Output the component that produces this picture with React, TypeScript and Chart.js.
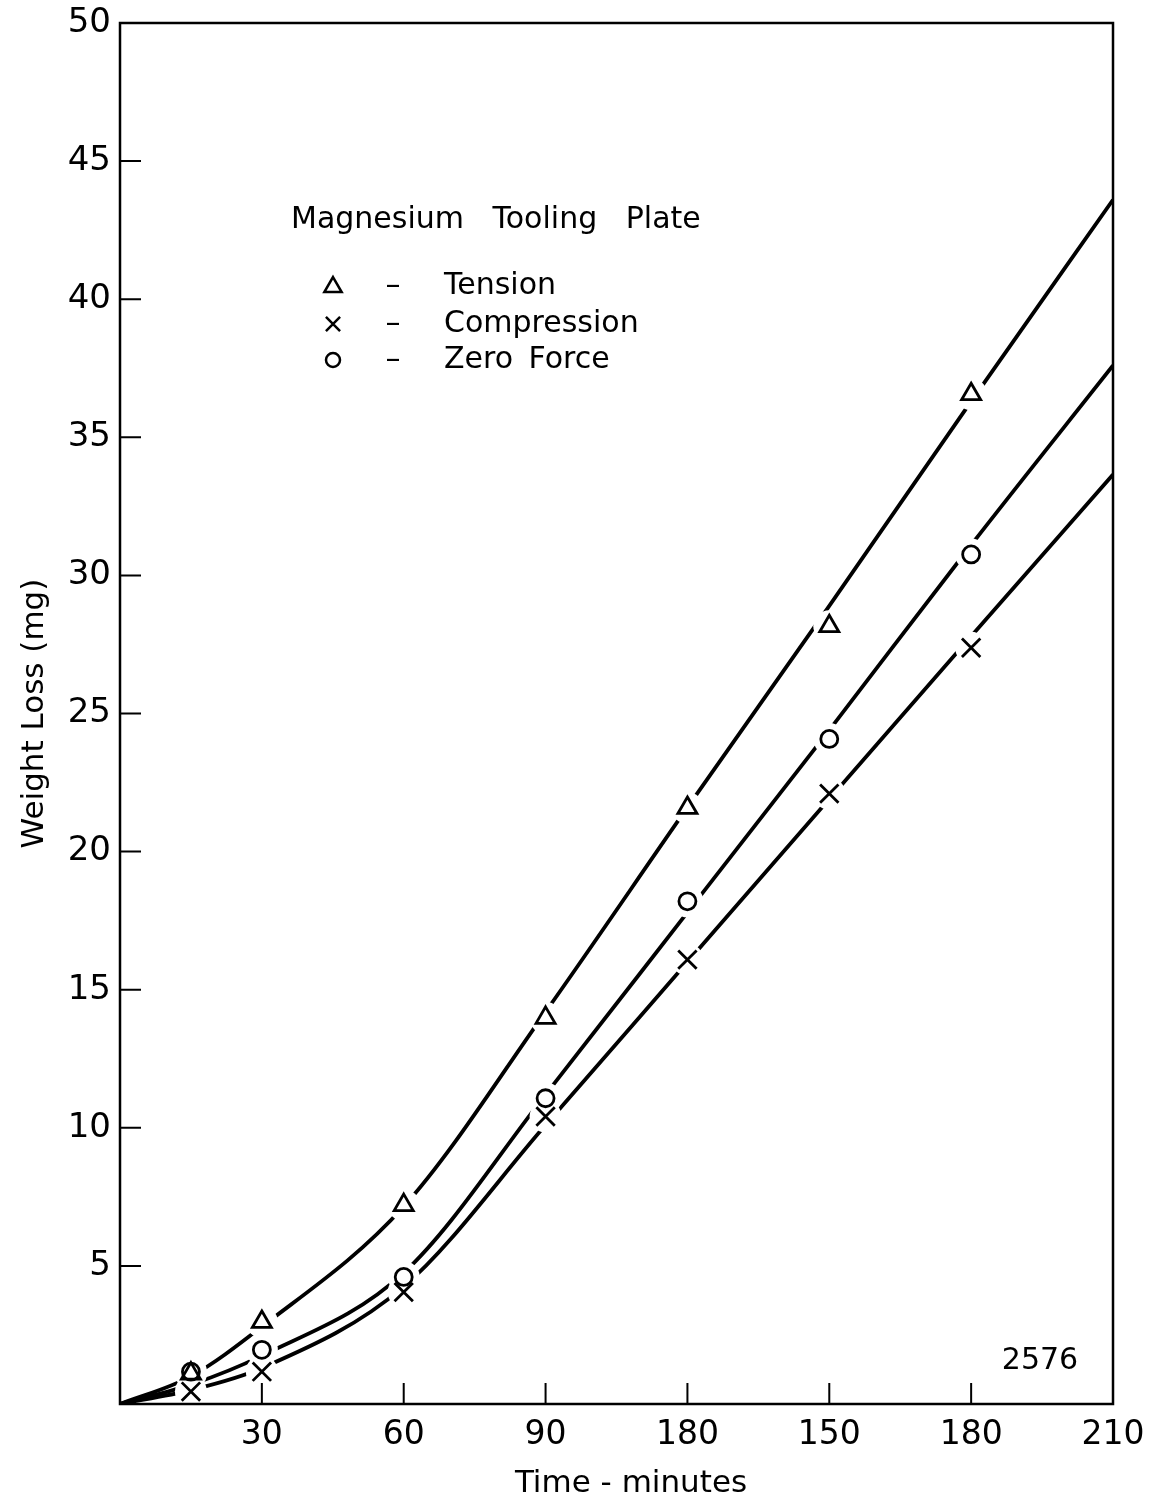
import React, { useEffect, useRef } from 'react';
import { Chart, registerables } from 'chart.js';

Chart.register(...registerables);

// Measured points (minutes, mg)
const times = [15, 30, 60, 90, 120, 150, 180];
const tension = [1.1, 2.97, 7.2, 13.98, 21.58, 28.16, 36.56];
const compression = [0.45, 1.17, 4.05, 10.41, 16.09, 22.1, 27.38];
const zeroForce = [1.17, 1.96, 4.6, 11.07, 18.2, 24.08, 30.76];

// Hand-drawn fitted curves
const curveTimes = [0, 15, 30, 60, 90, 120, 150, 180, 210];
const tensionCurve = [0, 1.0, 2.8, 7.15, 14.2, 21.6, 28.9, 36.3, 43.6];
const compressionCurve = [0, 0.5, 1.3, 4.25, 10.1, 16.0, 21.9, 27.8, 33.65];
const zeroForceCurve = [0, 0.7, 1.75, 4.75, 11.2, 17.8, 24.4, 31.1, 37.6];

// Axis ticks (the original prints "180" at the 120 position)
const xTickValues = [30, 60, 90, 120, 150, 180, 210];
const xTickLabels = ['30', '60', '90', '180', '150', '180', '210'];
const yTickValues = [5, 10, 15, 20, 25, 30, 35, 40, 45, 50];

const chartTitle = 'Magnesium Tooling Plate';
const seriesNames = ['Tension', 'Compression', 'Zero Force'];
const xAxisTitle = 'Time - minutes';
const yAxisTitle = 'Weight Loss (mg)';
const figureNumber = '2576';

const FONT = '"DejaVu Sans", sans-serif';

const toXY = (xs: number[], ys: number[]) => xs.map((x, i) => ({ x, y: ys[i] }));

function drawSymbol(ctx: CanvasRenderingContext2D, kind: string, x: number, y: number, s: number) {
  ctx.beginPath();
  if (kind === 'triangle') {
    ctx.moveTo(x, y - s);
    ctx.lineTo(x + s * 0.866, y + s * 0.5);
    ctx.lineTo(x - s * 0.866, y + s * 0.5);
    ctx.closePath();
  } else if (kind === 'cross') {
    const d = s * 0.707;
    ctx.moveTo(x - d, y - d);
    ctx.lineTo(x + d, y + d);
    ctx.moveTo(x + d, y - d);
    ctx.lineTo(x - d, y + d);
  } else {
    ctx.arc(x, y, s, 0, Math.PI * 2);
  }
  ctx.stroke();
}

const zeroScalePadding = (s: any) => {
  s.paddingTop = 0;
  s.paddingBottom = 0;
  s.paddingLeft = 0;
  s.paddingRight = 0;
};

const decorPlugin = {
  id: 'decor',
  afterDatasetsDraw(chart: any) {
    const { ctx, chartArea: a, scales } = chart;
    const xs = scales.x;
    const ys = scales.y;
    ctx.save();
    ctx.strokeStyle = '#000';
    ctx.fillStyle = '#000';
    ctx.lineCap = 'butt';
    ctx.lineWidth = 2.5;
    ctx.strokeRect(a.left, a.top, a.right - a.left, a.bottom - a.top);

    ctx.lineWidth = 2;
    ctx.beginPath();
    xTickValues.forEach((v) => {
      if (v >= xs.max) return;
      const px = xs.getPixelForValue(v);
      ctx.moveTo(px, a.bottom);
      ctx.lineTo(px, a.bottom - 21);
    });
    yTickValues.forEach((v) => {
      if (v >= ys.max) return;
      const py = ys.getPixelForValue(v);
      ctx.moveTo(a.left, py);
      ctx.lineTo(a.left + 21, py);
    });
    ctx.stroke();

    // Legend block
    ctx.textBaseline = 'middle';
    ctx.textAlign = 'left';
    ctx.font = `30px ${FONT}`;
    (ctx as any).wordSpacing = '19px';
    ctx.fillText(chartTitle, 291, 220);
    (ctx as any).wordSpacing = '6px';

    const kinds = ['triangle', 'cross', 'circle'];
    const sizes = [10, 10, 7];
    const rowsY = [286, 324, 360];
    ctx.lineWidth = 2.5;
    seriesNames.forEach((name, i) => {
      drawSymbol(ctx, kinds[i], 333, rowsY[i] + (i === 0 ? 1 : 0), sizes[i]);
      ctx.textAlign = 'center';
      ctx.fillText('\u2013', 393, rowsY[i]);
      ctx.textAlign = 'left';
      ctx.fillText(name, 444, rowsY[i]);
    });
    (ctx as any).wordSpacing = '0px';

    // X axis title
    ctx.font = `31px ${FONT}`;
    ctx.textAlign = 'center';
    ctx.fillText(xAxisTitle, 631, 1484);

    ctx.font = `30px ${FONT}`;
    ctx.fillText(figureNumber, 1040, 1361);
    ctx.restore();
  },
};

export default function App() {
  const canvasRef = useRef<HTMLCanvasElement | null>(null);

  useEffect(() => {
    const canvas = canvasRef.current;
    if (!canvas) return;
    Chart.defaults.font.family = FONT;
    Chart.defaults.color = '#000';

    const curveStyle = {
      type: 'line' as const,
      borderColor: '#000',
      borderWidth: 3.8,
      pointRadius: 0,
      pointHoverRadius: 0,
      cubicInterpolationMode: 'monotone' as const,
      fill: false,
      order: 2,
    };
    const haloStyle = {
      type: 'scatter' as const,
      showLine: false,
      pointStyle: 'circle',
      pointRadius: 16,
      pointHoverRadius: 16,
      pointBackgroundColor: '#fff',
      pointBorderColor: '#fff',
      pointBorderWidth: 0,
      order: 1,
    };
    const markerStyle = {
      type: 'scatter' as const,
      showLine: false,
      pointBorderColor: '#000',
      pointBackgroundColor: 'rgba(255,255,255,0)',
      pointBorderWidth: 2.8,
      order: 0,
    };

    const chart = new Chart(canvas, {
      type: 'line',
      data: {
        datasets: [
          { ...curveStyle, label: seriesNames[0] + ' curve', data: toXY(curveTimes, tensionCurve) },
          { ...curveStyle, label: seriesNames[1] + ' curve', data: toXY(curveTimes, compressionCurve) },
          { ...curveStyle, label: seriesNames[2] + ' curve', data: toXY(curveTimes, zeroForceCurve) },
          { ...haloStyle, label: 'h1', data: toXY(times, tension) },
          { ...haloStyle, label: 'h2', data: toXY(times, compression) },
          { ...haloStyle, label: 'h3', data: toXY(times, zeroForce) },
          { ...markerStyle, label: seriesNames[0], data: toXY(times, tension), pointStyle: 'triangle', pointRadius: 11, pointHoverRadius: 11 },
          { ...markerStyle, label: seriesNames[1], data: toXY(times, compression), pointStyle: 'crossRot', pointRadius: 13, pointHoverRadius: 13 },
          { ...markerStyle, label: seriesNames[2], data: toXY(times, zeroForce), pointStyle: 'circle', pointRadius: 8.5, pointHoverRadius: 8.5 },
        ] as any,
      },
      options: {
        responsive: false,
        devicePixelRatio: 1,
        animation: false,
        events: [],
        layout: { autoPadding: false, padding: { top: 23, right: 38, left: 0, bottom: 0 } },
        plugins: {
          legend: { display: false },
          tooltip: { enabled: false },
          title: { display: false },
        },
        scales: {
          x: {
            type: 'linear',
            min: 0,
            max: 210,
            grid: { display: false, drawTicks: false },
            border: { display: false },
            afterFit: (s: any) => { s.height = 101; zeroScalePadding(s); },
            afterBuildTicks: (s: any) => { s.ticks = xTickValues.map((v) => ({ value: v })); },
            ticks: {
              autoSkip: false,
              maxRotation: 0,
              padding: 12,
              font: { size: 33 },
              color: '#000',
              callback: (v: any) => {
                const i = xTickValues.indexOf(Number(v));
                return i >= 0 ? xTickLabels[i] : '';
              },
            },
            title: { display: false, text: xAxisTitle },
          },
          y: {
            type: 'linear',
            min: 0,
            max: 50,
            grid: { display: false, drawTicks: false },
            border: { display: false },
            afterFit: (s: any) => { s.width = 120; zeroScalePadding(s); },
            afterBuildTicks: (s: any) => { s.ticks = yTickValues.map((v) => ({ value: v })); },
            ticks: {
              autoSkip: false,
              padding: 9,
              font: { size: 34 },
              color: '#000',
              callback: (v: any) => String(v),
            },
            title: {
              display: true,
              text: yAxisTitle,
              font: { size: 31 },
              color: '#000',
              padding: { top: 16, bottom: 0 },
            },
          },
        },
      },
      plugins: [decorPlugin],
    } as any);

    return () => chart.destroy();
  }, []);

  return (
    <canvas
      ref={canvasRef}
      width={1151}
      height={1505}
      style={{ position: 'absolute', left: 0, top: 0, width: '1151px', height: '1505px', background: '#fff' }}
    />
  );
}
